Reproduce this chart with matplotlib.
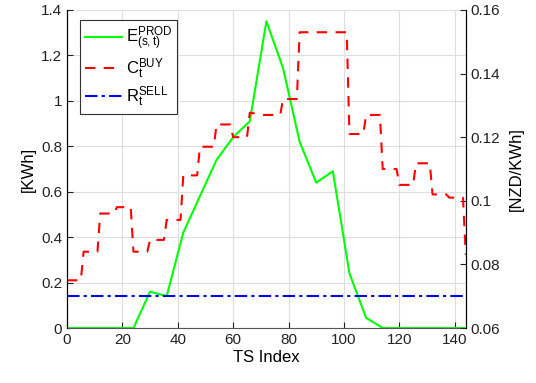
import numpy as np
import matplotlib
matplotlib.use('Agg')
import matplotlib.pyplot as plt

plt.rcParams['font.family'] = ['Liberation Sans', 'DejaVu Sans']
plt.rcParams['mathtext.default'] = 'regular'

# PV production (KWh), every 6 steps
prod_x = [0, 6, 12, 18, 24, 30, 36, 42, 48, 54, 60, 66, 72, 78, 84, 90, 96,
          102, 108, 114, 120, 126, 132, 138, 144]
prod_y = [0, 0, 0, 0, 0, 0.16, 0.14, 0.42, 0.58, 0.74, 0.84, 0.91, 1.35, 1.145,
          0.82, 0.64, 0.69, 0.24, 0.045, 0, 0, 0, 0, 0, 0]

# buy price (NZD/KWh), step profile
buy_x = [0, 5, 6, 11, 12, 17, 18, 23, 24, 29, 30, 35, 36, 41, 42, 47, 48, 53,
         54, 59, 60, 65, 66, 71, 72, 77, 78, 83, 84, 101, 102, 107, 108, 113,
         114, 119, 120, 125, 126, 131, 132, 137, 138, 143, 144]
buy_y = [0.075, 0.075, 0.084, 0.084, 0.096, 0.096, 0.098, 0.098, 0.084, 0.084,
         0.0877, 0.0877, 0.094, 0.094, 0.108, 0.108, 0.117, 0.117, 0.124, 0.124,
         0.120, 0.120, 0.1277, 0.127, 0.127, 0.127, 0.132, 0.132, 0.153, 0.153,
         0.121, 0.121, 0.127, 0.127, 0.110, 0.110, 0.105, 0.105, 0.1118, 0.1118,
         0.102, 0.102, 0.101, 0.101, 0.083]

# sell price (NZD/KWh)
sell_x = [0, 144]
sell_y = [0.07, 0.07]

fig = plt.figure(figsize=(5.36, 3.83), dpi=100)
ax = fig.add_axes([0.125, 0.1436, 0.744, 0.8303])
ax2 = ax.twinx()

l1, = ax.plot(prod_x, prod_y, color='#00ff00', lw=1.5)
l2, = ax2.plot(buy_x, buy_y, color='#ff0000', lw=1.5, ls=(0, (5, 4)))
l3, = ax2.plot(sell_x, sell_y, color='#0000ff', lw=1.5, ls=(0, (6, 2, 1.5, 2)))

ax.set_xlim(0, 144)
ax.set_ylim(0, 1.4)
ax2.set_ylim(0.06, 0.16)
ax.set_xticks(np.arange(0, 141, 20))
ax.set_yticks(np.arange(0, 1.41, 0.2))
ax.set_yticklabels(['0', '0.2', '0.4', '0.6', '0.8', '1', '1.2', '1.4'])
ax2.set_yticks(np.arange(0.06, 0.161, 0.02))
ax2.set_yticklabels(['0.06', '0.08', '0.1', '0.12', '0.14', '0.16'])

ax.grid(True, color='#dedede', lw=0.8)
ax.set_axisbelow(True)
for a in (ax, ax2):
    a.tick_params(direction='in', labelsize=11, length=4, colors='#222222')
    a.spines['top'].set_visible(False)
ax.spines['bottom'].set_color('#555555')
ax2.spines['bottom'].set_visible(False)

ax.set_xlabel('TS Index', fontsize=12, labelpad=2)
ax.set_ylabel('[KWh]', fontsize=12, labelpad=4)
ax2.set_ylabel('[NZD/KWh]', fontsize=12, labelpad=6)

leg = ax.legend([l1, l2, l3],
                [r'$E^{PROD}_{(s,t)}$', r'$C^{BUY}_{t}$', r'$R^{SELL}_{t}$'],
                loc='upper left', bbox_to_anchor=(0.033, 0.969), fontsize=12,
                fancybox=False, framealpha=1, edgecolor='#333333',
                handlelength=2.2, borderpad=0.3, labelspacing=0.2,
                handletextpad=0.25, borderaxespad=0)
leg.get_frame().set_linewidth(0.8)

fig.savefig('out.png', dpi=100)
